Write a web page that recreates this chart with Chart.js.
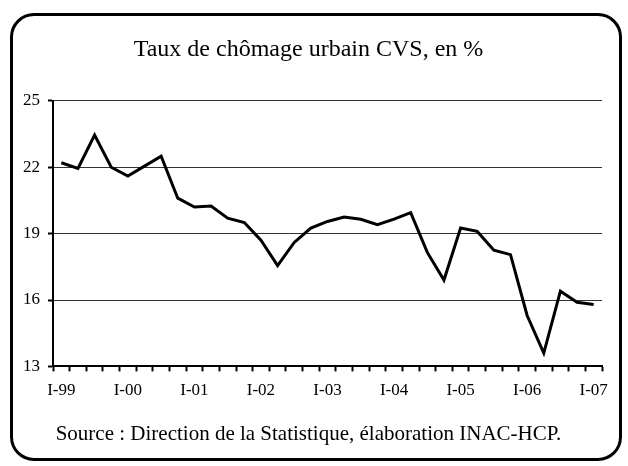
<!DOCTYPE html>
<html>
<head>
<meta charset="utf-8">
<script src="https://cdn.jsdelivr.net/npm/chart.js@4"></script>
<style>
  html, body { margin: 0; padding: 0; background: #fff; }
  #wrap { position: relative; width: 628px; height: 466px; }
  #frame {
    position: absolute; left: 10px; top: 13px; width: 606px; height: 442px;
    border: 3px solid #000; border-radius: 24px;
  }
  canvas { position: absolute; left: 0; top: 0; }
</style>
</head>
<body>
<div id="wrap">
  <div id="frame"></div>
  <canvas id="myChart" width="628" height="466"></canvas>
</div>
<script>
const quarters = [];
const years = ['99', '00', '01', '02', '03', '04', '05', '06', '07'];
years.forEach((y) => {
    ['I', 'II', 'III', 'IV'].forEach((q) => quarters.push(q + '-' + y));
});
const categories = quarters.slice(0, 33); // I-99 .. I-07

const rate = [
    22.2, 21.95, 23.45, 22.0, 21.6, 22.05, 22.5, 20.6, 20.2, 20.25,
    19.7, 19.5, 18.7, 17.55, 18.6, 19.25, 19.55, 19.75, 19.65, 19.4,
    19.65, 19.95, 18.15, 16.9, 19.25, 19.1, 18.25, 18.05, 15.3, 13.6,
    16.4, 15.9, 15.8
];

const yTicks = [13, 16, 19, 22, 25];

const serif = "'Liberation Serif', 'Times New Roman', serif";

function localChart() {
    const inf = {
        labels: categories,
        datasets: [
            {
                data: rate,
                borderColor: '#000',
                borderWidth: 3,
                pointRadius: 0,
                tension: 0,
                fill: false
            }
        ]
    };

    const options = {
        responsive: false,
        animation: false,
        layout: { padding: { left: 15, right: 26, top: 0, bottom: 0 } },
        scales: {
            x: {
                offset: true,
                grid: {
                    offset: true,
                    drawOnChartArea: false,
                    drawTicks: true,
                    tickLength: 5,
                    tickColor: '#000',
                    tickWidth: 2
                },
                border: { color: '#000', width: 2 },
                ticks: {
                    autoSkip: false,
                    maxRotation: 0,
                    padding: 9,
                    color: '#000',
                    font: { family: serif, size: 17 },
                    callback: (v, i) => (i % 4 === 0 ? categories[i] : '')
                }
            },
            y: {
                min: yTicks[0],
                max: yTicks[yTicks.length - 1],
                afterBuildTicks: (axis) => {
                    axis.ticks = yTicks.map((v) => ({ value: v }));
                },
                grid: {
                    color: '#333',
                    lineWidth: 1,
                    drawTicks: true,
                    tickLength: 5,
                    tickColor: '#000',
                    tickWidth: 2
                },
                border: { color: '#000', width: 2 },
                ticks: {
                    padding: 8,
                    color: '#000',
                    font: { family: serif, size: 17 }
                }
            }
        },
        plugins: {
            legend: { display: false },
            tooltip: { enabled: false },
            title: {
                display: true,
                text: 'Taux de chômage urbain CVS, en %',
                color: '#000',
                font: { family: serif, size: 24, weight: 'normal' },
                padding: { top: 35, bottom: 37 }
            },
            subtitle: {
                display: true,
                position: 'bottom',
                text: 'Source : Direction de la Statistique, élaboration INAC-HCP.',
                color: '#000',
                font: { family: serif, size: 21, weight: 'normal' },
                padding: { top: 12, bottom: 19 }
            }
        }
    };

    const config = {
        type: 'line',
        data: inf,
        options
    };
    const myChart = new Chart(document.getElementById('myChart'), config);
}
localChart();
</script>
</body>
</html>
